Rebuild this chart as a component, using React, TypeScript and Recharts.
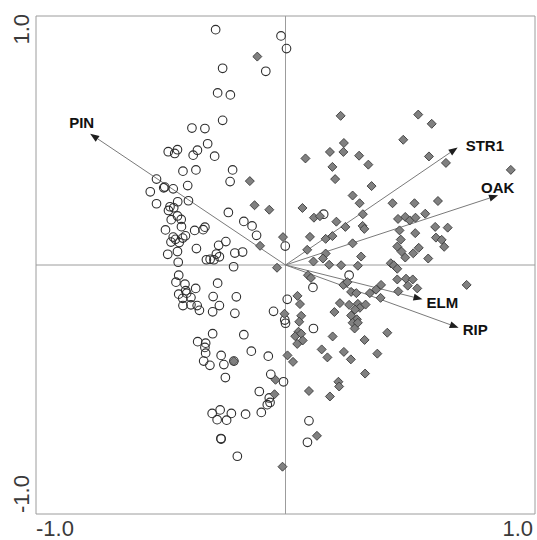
import React from 'react';
import { ScatterChart, Scatter, XAxis, YAxis, ReferenceLine, ReferenceArea } from 'recharts';

// open circles (group 1), [axis1, axis2]
const circleSites: [number, number][] = [
  [-0.280, 0.945], [-0.018, 0.920], [0.004, 0.869], [-0.252, 0.790], [-0.079, 0.778],
  [-0.272, 0.691], [-0.221, 0.683], [-0.252, 0.581], [-0.375, 0.550], [-0.323, 0.548],
  [-0.312, 0.487], [-0.470, 0.455], [-0.433, 0.463], [-0.444, 0.448], [-0.370, 0.441],
  [-0.353, 0.461], [-0.284, 0.437], [-0.411, 0.377], [-0.359, 0.382], [-0.212, 0.382],
  [-0.517, 0.345], [-0.222, 0.335], [-0.484, 0.313], [-0.488, 0.310], [-0.450, 0.306],
  [-0.392, 0.319], [-0.542, 0.294], [-0.517, 0.246], [-0.389, 0.258], [-0.432, 0.254],
  [-0.463, 0.234], [-0.448, 0.230], [-0.469, 0.219], [-0.433, 0.197], [-0.458, 0.182],
  [-0.418, 0.183], [-0.229, 0.211], [-0.167, 0.175], [-0.134, 0.157], [-0.116, 0.119],
  [-0.481, 0.141], [-0.417, 0.154], [-0.401, 0.117], [-0.364, 0.139], [-0.330, 0.142],
  [-0.323, 0.152], [-0.450, 0.112], [-0.441, 0.103], [-0.459, 0.092], [-0.426, 0.090],
  [-0.412, 0.108], [-0.433, 0.054], [-0.472, 0.043], [-0.357, 0.066], [-0.268, 0.079],
  [-0.239, 0.094], [-0.277, 0.044], [-0.265, 0.033], [-0.317, 0.021], [-0.302, 0.023],
  [-0.287, 0.021], [-0.203, 0.048], [-0.172, 0.052], [-0.208, -0.007], [-0.430, 0.011],
  [-0.001, 0.076], [0.153, 0.204],
  [-0.428, -0.041], [-0.439, -0.069], [-0.403, -0.077], [-0.400, -0.103], [-0.396, -0.113],
  [-0.360, -0.094], [-0.428, -0.117], [-0.412, -0.134], [-0.379, -0.131], [-0.411, -0.163],
  [-0.379, -0.160], [-0.354, -0.163], [-0.345, -0.182], [-0.272, -0.073], [-0.290, -0.127],
  [-0.265, -0.163], [-0.197, -0.128], [-0.292, -0.188], [-0.203, -0.194], [0.007, -0.138],
  [-0.048, -0.186], [-0.003, -0.221], [0.000, -0.234], [0.110, -0.090], [0.255, -0.041],
  [0.112, -0.255], [-0.292, -0.276], [-0.167, -0.280], [-0.352, -0.308], [-0.320, -0.314],
  [-0.323, -0.331], [-0.320, -0.354], [-0.328, -0.386], [-0.303, -0.403], [-0.258, -0.363],
  [-0.247, -0.400], [-0.207, -0.386], [-0.137, -0.346], [-0.069, -0.366], [-0.241, -0.452],
  [-0.059, -0.439], [-0.008, -0.469], [-0.105, -0.508], [-0.065, -0.534], [-0.062, -0.552],
  [-0.073, -0.561], [-0.294, -0.596], [-0.262, -0.582], [-0.274, -0.621], [-0.236, -0.623],
  [-0.217, -0.596], [-0.160, -0.599], [-0.097, -0.592], [0.094, -0.626], [-0.258, -0.699],
  [-0.259, -0.697], [0.088, -0.712], [-0.193, -0.768],
];

// grey diamonds (group 2)
const diamondSites: [number, number][] = [
  [-0.113, 0.837], [0.221, 0.599], [0.532, 0.604], [0.586, 0.567], [0.472, 0.503],
  [0.234, 0.490], [0.178, 0.454], [0.232, 0.454], [0.295, 0.439], [0.080, 0.428],
  [0.575, 0.436], [0.643, 0.410], [0.188, 0.394], [0.332, 0.403], [0.903, 0.382],
  [-0.143, 0.337], [0.199, 0.345], [0.345, 0.317], [0.269, 0.279], [0.297, 0.248],
  [0.429, 0.248], [0.517, 0.248], [0.611, 0.257], [-0.124, 0.240], [-0.065, 0.222],
  [0.068, 0.229], [0.114, 0.190], [0.138, 0.196], [0.310, 0.204], [0.560, 0.206],
  [0.204, 0.174], [0.451, 0.185], [0.480, 0.193], [0.498, 0.179], [0.521, 0.190],
  [0.240, 0.153], [0.309, 0.157], [0.316, 0.145], [0.457, 0.139], [0.600, 0.153],
  [0.650, 0.150], [0.098, 0.113], [0.161, 0.105], [0.188, 0.116], [0.520, 0.128],
  [0.462, 0.102], [0.603, 0.110], [0.626, 0.101], [-0.010, 0.112], [-0.102, 0.077],
  [0.087, 0.061], [0.269, 0.087], [0.448, 0.074], [0.534, 0.069], [0.636, 0.073],
  [0.465, 0.054], [0.161, 0.046], [0.150, 0.026], [0.480, 0.030], [0.303, 0.034],
  [0.572, 0.026], [0.112, 0.014], [0.175, 0.001], [0.223, -0.001], [0.290, -0.003],
  [-0.034, -0.011], [0.422, 0.007], [0.434, -0.001], [0.448, -0.015], [0.512, 0.047],
  [0.090, -0.041], [0.102, -0.052], [0.232, -0.080], [0.248, -0.069], [0.448, -0.058],
  [0.483, -0.055], [0.510, -0.058], [0.490, -0.083], [0.528, -0.094], [0.726, -0.080],
  [0.383, -0.080], [0.363, -0.099], [0.263, -0.108], [0.284, -0.113], [0.338, -0.113],
  [0.452, -0.106], [0.381, -0.132], [0.048, -0.124], [0.058, -0.157], [0.218, -0.153],
  [0.255, -0.160], [0.290, -0.156], [0.298, -0.172], [0.321, -0.159], [0.279, -0.179],
  [0.196, -0.189], [0.263, -0.203], [0.286, -0.218], [0.269, -0.232], [0.290, -0.232],
  [0.277, -0.255], [-0.004, -0.196], [0.063, -0.204], [0.055, -0.228], [0.052, -0.268],
  [0.039, -0.286], [0.063, -0.276], [0.069, -0.303], [0.047, -0.317], [0.189, -0.287],
  [0.408, -0.272], [0.317, -0.301], [0.145, -0.339], [0.168, -0.371], [0.234, -0.349],
  [0.262, -0.379], [0.368, -0.356], [0.008, -0.363], [0.030, -0.389], [-0.207, -0.386],
  [-0.040, -0.461], [0.319, -0.436], [0.212, -0.469], [0.215, -0.488], [0.094, -0.506],
  [0.178, -0.528], [-0.044, -0.519], [0.126, -0.686], [-0.012, -0.810],
];

// environmental vectors
const vectorNames = ['PIN', 'STR1', 'OAK', 'ELM', 'RIP'];
const vectorX = [-0.783, 0.690, 0.852, 0.549, 0.694];
const vectorY = [0.527, 0.472, 0.280, -0.138, -0.252];

const axisTicks = [-1, 1];
const tickLabels: Record<number, string> = { [-1]: '-1.0', 1: '1.0' };

// label placement relative to arrow tip (px)
const labelOffset: Record<string, [number, number]> = {
  PIN: [-21, -11],
  STR1: [8, -2],
  OAK: [-17, -8],
  ELM: [4, 3],
  RIP: [4, 2],
};

const circles = circleSites.map(([x, y]) => ({ x, y }));
const diamonds = diamondSites.map(([x, y]) => ({ x, y }));

const FONT = '"Liberation Sans", Arial, sans-serif';
const GRID = '#9c9c9c';

const OpenCircle = (props: any) => {
  const { cx, cy } = props;
  if (cx == null || cy == null) return null;
  return <circle cx={cx} cy={cy} r={4.3} fill="none" stroke="#2e2e2e" strokeWidth={1.1} />;
};

const Diamond = (props: any) => {
  const { cx, cy } = props;
  if (cx == null || cy == null) return null;
  const s = 4.5;
  return (
    <polygon
      points={`${cx},${cy - s} ${cx + s},${cy} ${cx},${cy + s} ${cx - s},${cy}`}
      fill="#808080"
      stroke="#3a3a3a"
      strokeWidth={0.9}
    />
  );
};

const makeArrow = (name: string) => (props: any) => {
  const { x1, y1, x2, y2 } = props;
  if ([x1, y1, x2, y2].some((v) => v == null || isNaN(v))) return null;
  const dx = x2 - x1;
  const dy = y2 - y1;
  const len = Math.hypot(dx, dy) || 1;
  const ux = dx / len;
  const uy = dy / len;
  const head = 9;
  const half = 3.5;
  const bx = x2 - ux * head;
  const by = y2 - uy * head;
  const pts = `${x2},${y2} ${bx - uy * half},${by + ux * half} ${bx + uy * half},${by - ux * half}`;
  const [ox, oy] = labelOffset[name];
  return (
    <g>
      <line x1={x1} y1={y1} x2={bx} y2={by} stroke="#7a7a7a" strokeWidth={1} />
      <polygon points={pts} fill="#1e1e1e" />
      <text
        x={x2 + ox}
        y={y2 + oy}
        dominantBaseline="central"
        fontFamily={FONT}
        fontWeight="bold"
        fontSize={15}
        fill="#111"
      >
        {name}
      </text>
    </g>
  );
};

const XTick = (props: any) => {
  const { x, y, payload } = props;
  const v = payload.value;
  return (
    <text
      x={x}
      y={y + 22}
      textAnchor={v < 0 ? 'start' : 'end'}
      fontFamily={FONT}
      fontSize={22}
      fill="#3a3a3a"
    >
      {tickLabels[v]}
    </text>
  );
};

const YTick = (props: any) => {
  const { x, y, payload } = props;
  const v = payload.value;
  const tx = x - 7.5;
  const ty = v > 0 ? y - 2 : y - 1;
  return (
    <text
      x={tx}
      y={ty}
      transform={`rotate(-90, ${tx}, ${ty})`}
      textAnchor={v > 0 ? 'end' : 'start'}
      fontFamily={FONT}
      fontSize={22}
      fill="#3a3a3a"
    >
      {tickLabels[v]}
    </text>
  );
};

export default function App() {
  return (
    <div style={{ position: 'absolute', left: 0, top: 0, width: 537, height: 540, background: '#fff' }}>
      <ScatterChart width={537} height={540} margin={{ top: 16, right: 2, bottom: 0, left: 0 }}>
        <XAxis
          type="number"
          dataKey="x"
          domain={[-1, 1]}
          ticks={axisTicks}
          height={26}
          axisLine={false}
          tickLine={false}
          tickSize={0}
          tickMargin={0}
          tick={<XTick />}
        />
        <YAxis
          type="number"
          dataKey="y"
          domain={[-1, 1]}
          ticks={axisTicks}
          width={36}
          axisLine={false}
          tickLine={false}
          tickSize={0}
          tickMargin={0}
          tick={<YTick />}
        />
        <ReferenceArea x1={-1} x2={1} y1={-1} y2={1} fill="none" stroke={GRID} strokeWidth={1} />
        <ReferenceLine x={0} stroke={GRID} strokeWidth={1} />
        <ReferenceLine y={0} stroke={GRID} strokeWidth={1} />
        <Scatter data={circles} shape={OpenCircle} isAnimationActive={false} />
        <Scatter data={diamonds} shape={Diamond} isAnimationActive={false} />
        {vectorNames.map((name, i) => (
          <ReferenceLine
            key={name}
            segment={[{ x: 0, y: 0 }, { x: vectorX[i], y: vectorY[i] }]}
            shape={makeArrow(name)}
          />
        ))}
      </ScatterChart>
    </div>
  );
}
